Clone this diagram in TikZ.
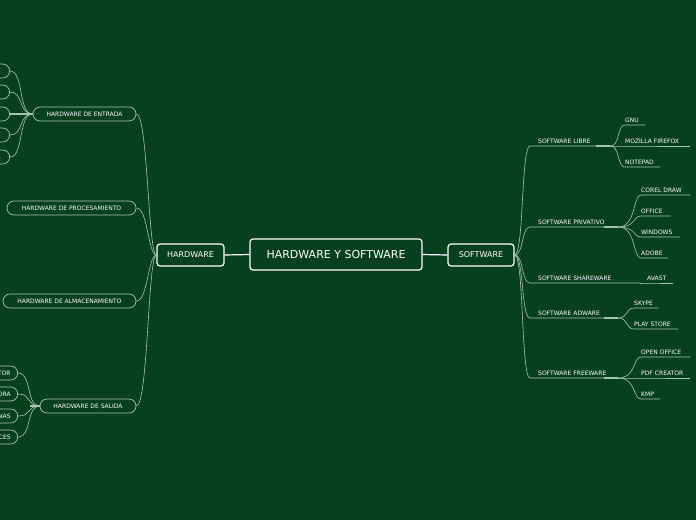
\documentclass[tikz,border=0pt]{standalone}
\usepackage{fontspec}
\setmainfont{DejaVu Sans}
\definecolor{bg}{HTML}{07401F}
\definecolor{ln}{HTML}{A9C4AE}
\begin{document}
\begin{tikzpicture}[x=1pt,y=-1pt,
  conn/.style={draw=ln,line width=0.6pt},
  hbox/.style={draw=ln,line width=0.7pt,rounded corners=7pt,minimum height=14pt,inner sep=0pt,text=white,font=\fontsize{6}{7}\selectfont},
  mainbox/.style={draw=white,line width=1.2pt,rounded corners=3pt,inner sep=0pt,text=white},
  txt/.style={anchor=south west,inner xsep=0pt,inner ysep=2pt,align=left,text=white,font=\fontsize{6}{7}\selectfont}]
\clip (0,0) rectangle (696,520);
\fill[bg] (0,0) rectangle (696,520);
% main
\node[mainbox,minimum width=172pt,minimum height=31pt,font=\fontsize{11}{12}\selectfont] (root) at (336,254.5) {HARDWARE Y SOFTWARE};
\node[mainbox,minimum width=67pt,minimum height=22pt,font=\fontsize{8}{9}\selectfont] (hw) at (190.5,255) {HARDWARE};
\node[mainbox,minimum width=66pt,minimum height=22pt,font=\fontsize{8}{9}\selectfont] (sw) at (481,255) {SOFTWARE};
\draw[white,line width=1.2pt] (root.west) -- (hw.east) (root.east) -- (sw.west);
% hardware children
\node[hbox,minimum width=103pt] (ent) at (84.5,114) {HARDWARE DE ENTRADA};
\node[hbox,minimum width=129pt] (pro) at (71.5,208) {HARDWARE DE PROCESAMIENTO};
\node[hbox,minimum width=133pt] (alm) at (69.5,301) {HARDWARE DE ALMACENAMIENTO};
\node[hbox,minimum width=96pt] (sal) at (88,406) {HARDWARE DE SALIDA};
\foreach \n/\y in {ent/114,pro/208,alm/301,sal/406}
  \draw[conn] (hw.west) .. controls (148,255) and (148,\y) .. (\n.east);
% entrada leaves (cut off at the edge)
\foreach \i/\y/\t in {e1/71/TECLADO,e2/92/MOUSE,e3/114/ESCÁNER,e4/135/MICRÓFONO,e5/157/CÁMARA WEB}{
  \node[hbox,inner xsep=9pt,anchor=east] (\i) at (10,\y) {\t};
  \draw[conn] (ent.west) .. controls (18,114) and (24,\y) .. (\i.east);}
\draw[ln,line width=1.5pt] (ent.west) -- (e3.east);
% salida leaves
\foreach \i/\y/\t in {s1/373/MONITOR,s2/394/IMPRESORA,s3/416/BOCINAS,s4/437/ALTAVOCES}{
  \node[hbox,inner xsep=7pt,anchor=east] (\i) at (18,\y) {\t};
  \draw[conn] (sal.west) .. controls (26,406) and (32,\y) .. (\i.east);}
\draw[ln,line width=1.5pt] (sal.west) -- ++(-10,0);
% software children
\foreach \n/\y/\e/\t in {sl/146/610/SOFTWARE LIBRE,sp/227/618/SOFTWARE PRIVATIVO,ss/283/640/SOFTWARE SHAREWARE,sa/318/618/SOFTWARE ADWARE,sf/378/618/SOFTWARE FREEWARE}{
  \node[txt,text width=\e-538] (\n) at (538,\y) {\t};
  \coordinate (\n b) at (530,\y);
  \draw[conn] (sw.east) .. controls (524,255) and (521,\y) .. (\n b) -- (\n.south east);}
% leaves
\foreach \p/\bx/\by/\lx/\ly/\e/\t/\n in {
  sl/612/146/625/125/645/GNU/l1, sl/612/146/625/146/690/MOZILLA FIREFOX/l2, sl/612/146/625/167/660/NOTEPAD/l3,
  sp/628/227/641/195/690/COREL DRAW/p1, sp/628/227/641/216/670/OFFICE/p2, sp/628/227/641/237/680/WINDOWS/p3, sp/628/227/641/258/668/ADOBE/p4,
  ss/640/283/647/283/673/AVAST/h1,
  sa/620/318/634/308/658/SKYPE/a1, sa/620/318/634/329/678/PLAY STORE/a2,
  sf/628/378/641/357/690/OPEN OFFICE/f1, sf/628/378/641/378/690/PDF CREATOR/f2, sf/628/378/641/399/660/KMP/f3}{
  \node[txt,text width=\e-\lx] (\n) at (\lx,\ly) {\t};
  \draw[conn] (\p.south east) .. controls (\bx+8,\by) and (\lx-8,\ly) .. (\n.south west) -- (\n.south east);}
\foreach \p in {sl,sp,sa,sf} \draw[ln,line width=1.5pt] (\p.south east) ++(-14,0) -- ++(14,0);
\end{tikzpicture}
\end{document}
